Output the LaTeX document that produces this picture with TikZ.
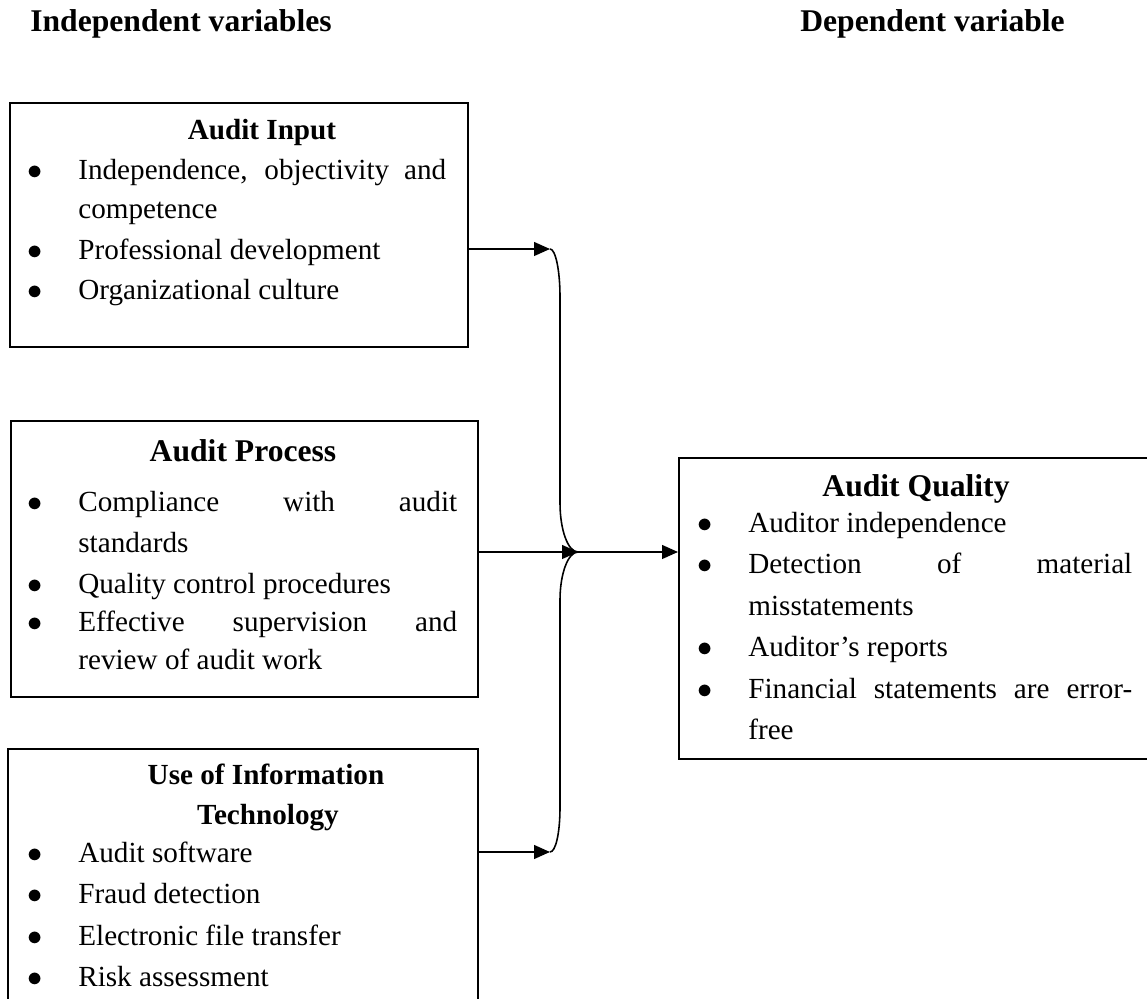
\documentclass[tikz,border=0pt]{standalone}
\usepackage{fontspec}
\setmainfont{Liberation Serif}
\usetikzlibrary{arrows.meta}
\newcommand{\bul}{\makebox[0.96cm][l]{\hspace{-0.05cm}$\bullet$}}
\tikzset{
  box/.style={draw, line width=1pt, anchor=north west, inner sep=0pt},
  txt/.style={anchor=base west, inner sep=0pt, font=\fontsize{16.6}{20}\selectfont},
  head/.style={anchor=base, inner sep=0pt, font=\fontsize{16.6}{20}\selectfont\bfseries},
  bighead/.style={anchor=base, inner sep=0pt, font=\fontsize{18}{22}\selectfont\bfseries},
  arr/.style={line width=1pt, -{Triangle[length=9pt,width=7.8pt]}}
}
\begin{document}
\begin{tikzpicture}[x=0.02cm,y=-0.02cm]
\clip (0,0) rectangle (1147,999);

% column titles
\node[txt, font=\fontsize{18}{22}\selectfont\bfseries] (indep) at (30,32) {Independent variables};
\node[txt, font=\fontsize{18}{22}\selectfont\bfseries] (dep) at (800,32) {Dependent variable};

% boxes
\node[box, minimum width=9.16cm, minimum height=4.88cm] (input) at (9,102) {};
\node[box, minimum width=9.34cm, minimum height=5.52cm] (process) at (10,420) {};
\node[box, minimum width=9.4cm, minimum height=5.44cm] (tech) at (7,748) {};
\node[box, minimum width=9.84cm, minimum height=6.02cm] (quality) at (678,457) {};

% audit input
\node[head] (inputhead) at (262,140) {Audit Input};
\node[txt] (in1) at (30,180) {\bul\makebox[7.36cm][s]{Independence, objectivity and}};
\node[txt] (in2) at (78,219) {competence};
\node[txt] (in3) at (30,260) {\bul Professional development};
\node[txt] (in4) at (30,300) {\bul Organizational culture};

% audit process
\node[bighead] (processhead) at (243,462) {Audit Process};
\node[txt] (pr1) at (30,512) {\bul\makebox[7.58cm][s]{Compliance with audit}};
\node[txt] (pr2) at (78,553) {standards};
\node[txt] (pr3) at (30,594) {\bul Quality control procedures};
\node[txt] (pr4) at (30,632) {\bul\makebox[7.58cm][s]{Effective supervision and}};
\node[txt] (pr5) at (78,670) {review of audit work};

% information technology
\node[head] (techhead1) at (266,785) {Use of Information};
\node[head] (techhead2) at (268,825) {Technology};
\node[txt] (it1) at (30,863) {\bul Audit software};
\node[txt] (it2) at (30,904) {\bul Fraud detection};
\node[txt] (it3) at (30,946) {\bul Electronic file transfer};
\node[txt] (it4) at (30,987) {\bul Risk assessment};

% audit quality
\node[bighead] (qualityhead) at (916,497) {Audit Quality};
\node[txt] (aq1) at (700,533) {\bul Auditor independence};
\node[txt] (aq2) at (700,574) {\bul\makebox[7.68cm][s]{Detection of material}};
\node[txt] (aq3) at (748,616) {misstatements};
\node[txt] (aq4) at (700,657) {\bul Auditor’s reports};
\node[txt] (aq5) at (700,699) {\bul\makebox[7.68cm][s]{Financial statements are error-}};
\node[txt] (aq6) at (748,740) {free};

% connectors
\coordinate (j1) at (550,249);
\coordinate (hub) at (578,552);
\coordinate (j3) at (550,852);
\draw[arr] (input.east |- j1) -- (j1);
\draw[arr] (process.east |- hub) -- (hub);
\draw[arr] (tech.east |- j3) -- (j3);
\draw[arr] (hub) -- (quality.west |- hub);
\draw[line width=0.9pt] (j1) .. controls (555.5,249) and (560,270) .. (560,297)
  -- (560,503) .. controls (560,530) and (568,552) .. (hub)
  .. controls (568,552) and (560,574) .. (560,600)
  -- (560,807) .. controls (560,834) and (555.5,852) .. (j3);
\end{tikzpicture}
\end{document}
